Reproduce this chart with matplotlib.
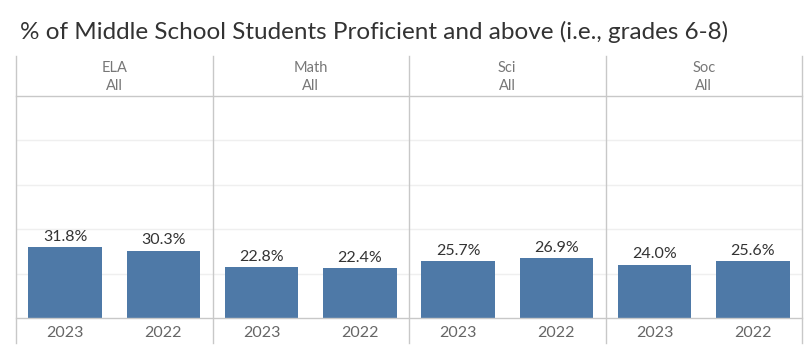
import matplotlib.pyplot as plt

# ----------------------------------------------------------
# Data
# ----------------------------------------------------------
subjects = ["ELA", "Math", "Sci", "Soc"]
groups = ["All", "All", "All", "All"]
years = ["2023", "2022"]
pct_2023 = [31.8, 22.8, 25.7, 24.0]
pct_2022 = [30.3, 22.4, 26.9, 25.6]

W, H = 808, 363
bar_color = "#4e79a7"
line_color = "#c8c8c8"
grid_color = "#efefef"

plt.rcParams["font.family"] = ["Lato", "DejaVu Sans"]

fig = plt.figure(figsize=(W / 100, H / 100), dpi=100)


def fx(px):
    return px / W


def fy(py):
    return 1 - py / H


left, right = 16, 802
top, bottom = 96, 318
ax = fig.add_axes([fx(left), fy(bottom), fx(right - left), fy(top) - fy(bottom)])

values = []
labels = []
for a, b in zip(pct_2023, pct_2022):
    values += [a, b]
    labels += years
pos = list(range(len(values)))

ax.bar(pos, values, width=0.75, color=bar_color, zorder=3)
for x, v in zip(pos, values):
    ax.text(x, v + 1.5, f"{v:.1f}%", ha="center", va="bottom",
            fontsize=11.5, color="#333333", zorder=4)

ax.set_xlim(-0.5, len(values) - 0.5)
ax.set_ylim(0, 100)
ax.set_yticks([20, 40, 60, 80])
ax.yaxis.grid(True, color=grid_color, linewidth=1, zorder=0)
ax.set_yticklabels([])
ax.tick_params(axis="y", length=0)
ax.set_xticks(pos)
ax.set_xticklabels(labels, fontsize=11.5, color="#666666")
ax.tick_params(axis="x", length=0, pad=6)
for s in ax.spines.values():
    s.set_visible(False)

# frame lines (figure pixels)
def hline(y, x0, x1):
    fig.add_artist(plt.Line2D([fx(x0), fx(x1)], [fy(y), fy(y)],
                              color=line_color, linewidth=1))


def vline(x, y0, y1):
    fig.add_artist(plt.Line2D([fx(x), fx(x)], [fy(y0), fy(y1)],
                              color=line_color, linewidth=1))


hline(top, left, right)
hline(bottom, left, right)
panel_w = (right - left) / len(subjects)
for i in range(len(subjects) + 1):
    vline(left + i * panel_w, 56, 343)

for i, (s, g) in enumerate(zip(subjects, groups)):
    cx = left + (i + 0.5) * panel_w
    fig.text(fx(cx), fy(68), s, ha="center", va="center",
             fontsize=10.5, color="#777777")
    fig.text(fx(cx), fy(86), g, ha="center", va="center",
             fontsize=10.5, color="#777777")

fig.text(fx(20), fy(32), "% of Middle School Students Proficient and above (i.e., grades 6-8)",
         ha="left", va="center", fontsize=17.5, color="#333333")

fig.savefig("out.png", dpi=100)
